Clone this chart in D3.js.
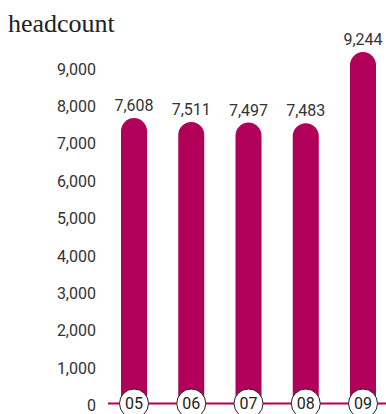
<!DOCTYPE html>
<html><head><meta charset="utf-8">
<script src="https://cdn.jsdelivr.net/npm/d3@7"></script>
<style>body{margin:0;background:#fff}svg{display:block}</style>
</head><body><svg id="c" width="386" height="414"></svg>
<script>
const categories = ["05","06","07","08","09"];
const values = [7608, 7511, 7497, 7483, 9244];
const valueLabels = ["7,608","7,511","7,497","7,483","9,244"];
const tickValues = [0,1000,2000,3000,4000,5000,6000,7000,8000,9000];
const title = "headcount";

const svg = d3.select("#c");
const color = "#b1005a";
const font = "Roboto, 'Open Sans', sans-serif";
const y = d3.scaleLinear().domain([0, 9000]).range([405, 68.5]);
const yBar = d3.scaleLinear().domain([0, 10000]).range([425, 21.6]);
const x = d3.scalePoint().domain(categories).range([134, 363]);
const bw = 26, r = bw/2;

svg.append("text").attr("x", 8).attr("y", 32).text(title)
  .attr("font-family", "'Liberation Serif', serif").attr("font-size", 26).attr("fill", "#222");

const axis = d3.axisLeft(y).tickValues(tickValues).tickSize(0).tickPadding(0)
  .tickFormat(d3.format(","));
const g = svg.append("g").attr("transform", "translate(96,0)").call(axis);
g.select(".domain").remove();
g.selectAll("text").attr("font-family", font).attr("font-size", 16).attr("fill", "#333").attr("dy", "0.35em");

svg.selectAll("path.bar").data(values).join("path").attr("class","bar")
  .attr("fill", color)
  .attr("d", (d,i) => {
    const cx = x(categories[i]), top = yBar(d), bot = y(0);
    return `M${cx-r},${bot}V${top+r}A${r},${r} 0 0 1 ${cx+r},${top+r}V${bot}Z`;
  });

svg.selectAll("text.val").data(values).join("text").attr("class","val")
  .attr("x", (d,i) => x(categories[i])).attr("y", d => yBar(d) - 7)
  .attr("text-anchor", "middle").attr("font-family", font)
  .attr("font-size", 16).attr("fill", "#333").text((d,i) => valueLabels[i]);

svg.append("line").attr("x1", 108).attr("x2", 386).attr("y1", y(0)-1.5).attr("y2", y(0)-1.5)
  .attr("stroke", color).attr("stroke-width", 2);

const cg = svg.selectAll("g.cat").data(categories).join("g").attr("class","cat")
  .attr("transform", d => `translate(${x(d)},${y(0)-1.5})`);
cg.append("circle").attr("r", 14.5).attr("fill", "#fff").attr("stroke", "#222").attr("stroke-width", 1);
cg.append("text").attr("text-anchor", "middle").attr("dy", "0.35em")
  .attr("font-family", font).attr("font-size", 16).attr("fill", "#222").text(d => d);
</script></body></html>
